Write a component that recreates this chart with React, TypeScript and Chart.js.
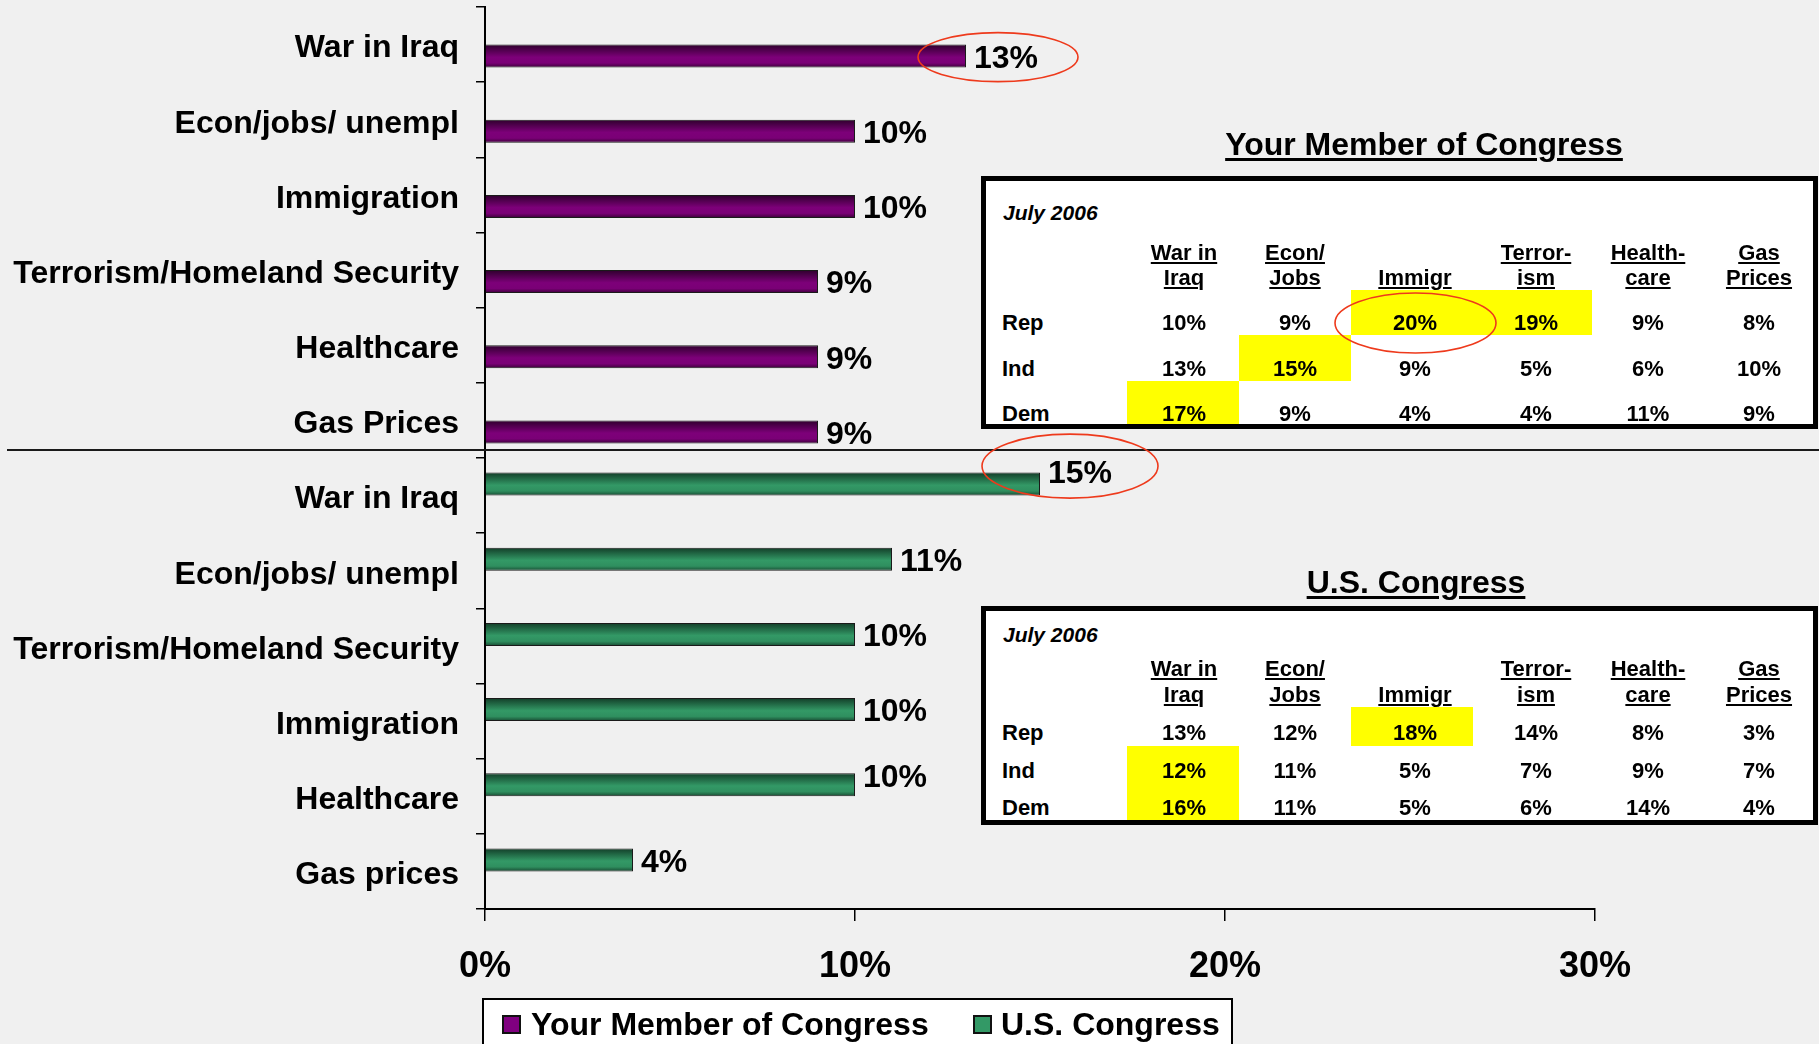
import React, { useEffect, useRef } from 'react';
import { Chart, registerables } from 'chart.js';

Chart.register(...registerables);

const FONT = '"Liberation Sans", Arial, Helvetica, sans-serif';

// ---------- data ----------
const MEMBER_LABEL = 'Your Member of Congress';
const CONGRESS_LABEL = 'U.S. Congress';

const MEMBER_CATEGORIES = ['War in Iraq', 'Econ/jobs/ unempl', 'Immigration', 'Terrorism/Homeland Security', 'Healthcare', 'Gas Prices'];
const MEMBER_VALUES = [13, 10, 10, 9, 9, 9];

const CONGRESS_CATEGORIES = ['War in Iraq', 'Econ/jobs/ unempl', 'Terrorism/Homeland Security', 'Immigration', 'Healthcare', 'Gas prices'];
const CONGRESS_VALUES = [15, 11, 10, 10, 10, 4];

const X_TICKS = [0, 10, 20, 30];

const TABLE_DATE = 'July 2006';
const TABLE_HEADERS = [['War in', 'Iraq'], ['Econ/', 'Jobs'], ['', 'Immigr'], ['Terror-', 'ism'], ['Health-', 'care'], ['Gas', 'Prices']];
const PARTIES = ['Rep', 'Ind', 'Dem'];
const MEMBER_TABLE = [
  [10, 9, 20, 19, 9, 8],
  [13, 15, 9, 5, 6, 10],
  [17, 9, 4, 4, 11, 9],
];
const MEMBER_TABLE_HIGHLIGHTS = [[0, 2], [0, 3], [1, 1], [2, 0]];
const CONGRESS_TABLE = [
  [13, 12, 18, 14, 8, 3],
  [12, 11, 5, 7, 9, 7],
  [16, 11, 5, 6, 14, 4],
];
const CONGRESS_TABLE_HIGHLIGHTS = [[0, 2], [1, 0], [2, 0]];

// ---------- styles / layout ----------
const MEMBER_COLOR = '#800080';
const CONGRESS_COLOR = '#339966';
const MEMBER_SHADE = ['#2e002c', '#7d0079', '#7a0076', '#3a0037'];
const CONGRESS_SHADE = ['#123d28', '#339966', '#2f8f5f', '#184a32'];
const CATEGORY_PCT = 0.612;
const RED = '#ee3a1c';
const YELLOW = '#ffff00';

const LABEL_DY = 3;
const LABEL_NUDGE: Record<number, Record<number, number>> = { 0: { 6: -13, 10: -10 } };
const CHART_RINGS = [
  { dataset: 1, index: 0, dx: 32, dy: 1, rx: 80, ry: 24.5 },
  { dataset: 0, index: 6, dx: 30, dy: -18, rx: 88, ry: 32 },
];

const COL_EDGES = [1127, 1239, 1351, 1473, 1592, 1704, 1813];
const COL_CENTERS = [1184, 1295, 1415, 1536, 1648, 1759];

const barFill = (shade: string[], fallback: string) => (ctx: any) => {
  const chart = ctx.chart;
  const ys = chart.scales && chart.scales.y;
  if (!ys || ctx.type !== 'data') return fallback;
  const n = chart.data.labels.length;
  const catW = (ys.bottom - ys.top) / n;
  const half = (catW * CATEGORY_PCT) / 2;
  const center = ys.getPixelForValue(ctx.dataIndex);
  const top = ctx.datasetIndex === 0 ? center - half : center;
  if (!isFinite(top) || !isFinite(half) || half <= 0) return fallback;
  const g = chart.ctx.createLinearGradient(0, top, 0, top + half);
  g.addColorStop(0, shade[0]);
  g.addColorStop(0.55, shade[1]);
  g.addColorStop(0.8, shade[2]);
  g.addColorStop(1, shade[3]);
  return g;
};

const overlayPlugin = {
  id: 'overlay',
  afterDatasetsDraw(chart: any) {
    const { ctx } = chart;
    const ys = chart.scales.y;
    ctx.save();
    // divider between the two groups
    const k = MEMBER_CATEGORIES.length;
    const boundary = (ys.getPixelForValue(k - 1) + ys.getPixelForValue(k)) / 2 - 8;
    ctx.strokeStyle = '#1a1a1a';
    ctx.lineWidth = 2;
    ctx.beginPath();
    ctx.moveTo(7, boundary);
    ctx.lineTo(chart.width, boundary);
    ctx.stroke();

    // value labels
    ctx.font = `bold 32px ${FONT}`;
    ctx.fillStyle = '#000';
    ctx.textAlign = 'left';
    ctx.textBaseline = 'middle';
    chart.data.datasets.forEach((ds: any, di: number) => {
      const meta = chart.getDatasetMeta(di);
      meta.data.forEach((el: any, i: number) => {
        const v = ds.data[i];
        if (v == null) return;
        const nudge = (LABEL_NUDGE[di] && LABEL_NUDGE[di][i]) || 0;
        ctx.fillText(`${v}%`, el.x + 8, el.y + LABEL_DY + nudge);
      });
    });

    // red rings
    ctx.strokeStyle = RED;
    ctx.lineWidth = 1.6;
    CHART_RINGS.forEach((r) => {
      const el = chart.getDatasetMeta(r.dataset).data[r.index];
      if (!el) return;
      ctx.beginPath();
      ctx.ellipse(el.x + r.dx, el.y + r.dy, r.rx, r.ry, 0, 0, Math.PI * 2);
      ctx.stroke();
    });
    ctx.restore();
  },
};

function Txt(props: any) {
  const { x, base, size, align = 'center', italic = false, underline = 0, offset = 2, children } = props;
  const w = 700;
  const left = align === 'center' ? x - w / 2 : align === 'left' ? x : x - w;
  return (
    <div
      style={{
        position: 'absolute',
        left,
        top: base - 0.8465 * size,
        width: w,
        textAlign: align,
        fontSize: size,
        lineHeight: `${size}px`,
        fontWeight: 700,
        fontStyle: italic ? 'italic' : 'normal',
        whiteSpace: 'nowrap',
        color: '#000',
        textDecoration: underline ? 'underline' : 'none',
        textDecorationThickness: underline ? `${underline}px` : undefined,
        textUnderlineOffset: underline ? `${offset}px` : undefined,
      }}
    >
      {children}
    </div>
  );
}

function PollTable(props: any) {
  const { title, titleBase, box, dateBase, headerBases, rowEdges, rowBases, values, highlights } = props;
  return (
    <>
      <Txt x={box.cx} base={titleBase} size={32} underline={3} offset={3}>{title}</Txt>
      <div
        style={{
          position: 'absolute',
          left: box.x0,
          top: box.y0,
          width: box.x1 - box.x0,
          height: box.y1 - box.y0,
          boxSizing: 'border-box',
          border: '5px solid #000',
          background: '#fff',
        }}
      />
      {highlights.map(([r, c]: number[], i: number) => (
        <div
          key={'h' + i}
          style={{
            position: 'absolute',
            left: COL_EDGES[c],
            top: rowEdges[r],
            width: COL_EDGES[c + 1] - COL_EDGES[c],
            height: rowEdges[r + 1] - rowEdges[r],
            background: YELLOW,
          }}
        />
      ))}
      <Txt x={1003} base={dateBase} size={21} align="left" italic>{TABLE_DATE}</Txt>
      {TABLE_HEADERS.map((h, c) => (
        <React.Fragment key={'hd' + c}>
          {h[0] ? <Txt x={COL_CENTERS[c]} base={headerBases[0]} size={22} underline={2}>{h[0]}</Txt> : null}
          <Txt x={COL_CENTERS[c]} base={headerBases[1]} size={22} underline={2}>{h[1]}</Txt>
        </React.Fragment>
      ))}
      {PARTIES.map((p, r) => (
        <React.Fragment key={'r' + r}>
          <Txt x={1002} base={rowBases[r]} size={22} align="left">{p}</Txt>
          {values[r].map((v: number, c: number) => (
            <Txt key={'v' + c} x={COL_CENTERS[c]} base={rowBases[r]} size={22}>{`${v}%`}</Txt>
          ))}
        </React.Fragment>
      ))}
    </>
  );
}

export default function App() {
  const canvasRef = useRef<HTMLCanvasElement | null>(null);

  useEffect(() => {
    const canvas = canvasRef.current;
    if (!canvas) return;
    const labels = [...MEMBER_CATEGORIES, ...CONGRESS_CATEGORIES];
    const chart = new Chart(canvas, {
      type: 'bar',
      data: {
        labels,
        datasets: [
          {
            label: CONGRESS_LABEL,
            data: [...MEMBER_CATEGORIES.map(() => null), ...CONGRESS_VALUES],
            backgroundColor: barFill(CONGRESS_SHADE, CONGRESS_COLOR),
            borderColor: '#1a1a1a',
            borderWidth: 1,
            categoryPercentage: CATEGORY_PCT,
            barPercentage: 1,
          },
          {
            label: MEMBER_LABEL,
            data: [...MEMBER_VALUES, ...CONGRESS_CATEGORIES.map(() => null)],
            backgroundColor: barFill(MEMBER_SHADE, MEMBER_COLOR),
            borderColor: '#1a1a1a',
            borderWidth: 1,
            categoryPercentage: CATEGORY_PCT,
            barPercentage: 1,
          },
        ] as any,
      },
      options: {
        indexAxis: 'y',
        responsive: false,
        animation: false,
        layout: { padding: { top: 7, right: 224, bottom: 0, left: 0 } },
        plugins: { legend: { display: false }, tooltip: { enabled: false } },
        scales: {
          x: {
            type: 'linear',
            min: 0,
            max: X_TICKS[X_TICKS.length - 1],
            afterBuildTicks: (s: any) => {
              s.ticks = X_TICKS.map((v) => ({ value: v }));
            },
            ticks: {
              callback: (v: any) => `${v}%`,
              font: { family: FONT, size: 36, weight: 'bold' },
              color: '#000',
              padding: 24,
              maxRotation: 0,
            },
            grid: { drawOnChartArea: false, drawTicks: true, tickLength: 12, color: '#000', lineWidth: 1.5 },
            border: { color: '#000', width: 2 },
            afterFit: (s: any) => {
              s.height = 135;
              s.paddingLeft = 0;
              s.paddingRight = 0;
            },
          },
          y: {
            type: 'category',
            offset: true,
            ticks: {
              font: { family: FONT, size: 32, weight: 'bold' },
              color: '#000',
              padding: 17,
              labelOffset: 4,
              autoSkip: false,
            },
            grid: { offset: true, drawOnChartArea: false, drawTicks: true, tickLength: 9, color: '#000', lineWidth: 1.5 },
            border: { color: '#000', width: 2 },
            afterFit: (s: any) => {
              s.width = 485;
              s.paddingTop = 0;
              s.paddingBottom = 0;
            },
          },
        },
      } as any,
      plugins: [overlayPlugin],
    });
    return () => chart.destroy();
  }, []);

  const legendItems = [
    { label: MEMBER_LABEL, color: MEMBER_COLOR, sq: 502, tx: 531 },
    { label: CONGRESS_LABEL, color: CONGRESS_COLOR, sq: 973, tx: 1001 },
  ];

  return (
    <div
      style={{
        position: 'absolute',
        left: 0,
        top: 0,
        width: 1819,
        height: 1044,
        background: '#f0f0f0',
        overflow: 'hidden',
        fontFamily: FONT,
      }}
    >
      <canvas ref={canvasRef} width={1819} height={1044} style={{ position: 'absolute', left: 0, top: 0, width: 1819, height: 1044 }} />

      <PollTable
        title={MEMBER_LABEL}
        titleBase={155}
        box={{ x0: 981, y0: 176, x1: 1818, y1: 429, cx: 1424 }}
        dateBase={220}
        headerBases={[261, 286]}
        rowEdges={[290, 335, 381, 424]}
        rowBases={[331, 377, 422]}
        values={MEMBER_TABLE}
        highlights={MEMBER_TABLE_HIGHLIGHTS}
      />
      <PollTable
        title={CONGRESS_LABEL}
        titleBase={593}
        box={{ x0: 981, y0: 606, x1: 1818, y1: 825, cx: 1416 }}
        dateBase={642}
        headerBases={[677, 703]}
        rowEdges={[707, 746, 783, 820]}
        rowBases={[741, 779, 816]}
        values={CONGRESS_TABLE}
        highlights={CONGRESS_TABLE_HIGHLIGHTS}
      />

      <svg width={1819} height={1044} style={{ position: 'absolute', left: 0, top: 0, pointerEvents: 'none' }}>
        <ellipse cx={1415.5} cy={323} rx={80.5} ry={30} fill="none" stroke={RED} strokeWidth={1.6} />
      </svg>

      <div
        style={{
          position: 'absolute',
          left: 482,
          top: 998,
          width: 751,
          height: 70,
          boxSizing: 'border-box',
          border: '2px solid #000',
          background: '#fff',
        }}
      />
      {legendItems.map((it) => (
        <React.Fragment key={it.label}>
          <div
            style={{
              position: 'absolute',
              left: it.sq,
              top: 1015,
              width: 19,
              height: 19,
              boxSizing: 'border-box',
              border: '2px solid #111',
              background: it.color,
            }}
          />
          <Txt x={it.tx} base={1035} size={32} align="left">{it.label}</Txt>
        </React.Fragment>
      ))}
    </div>
  );
}
